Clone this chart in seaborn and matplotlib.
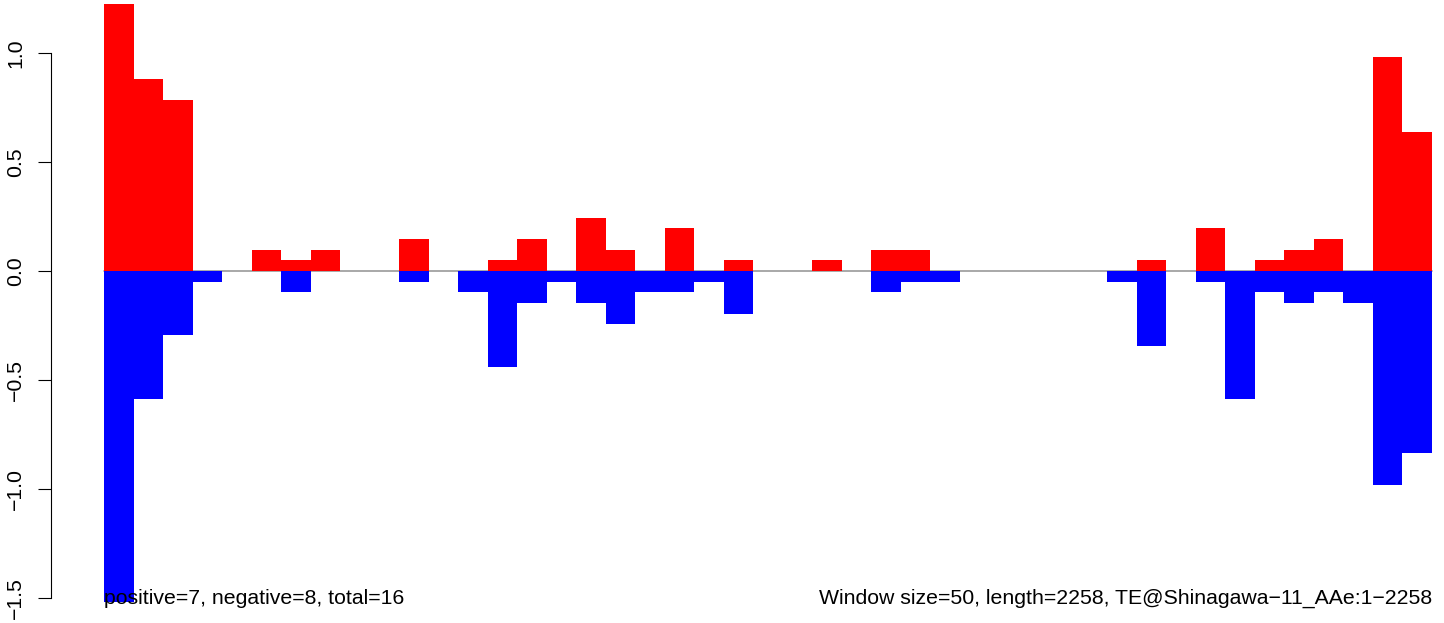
import numpy as np
import pandas as pd
import seaborn as sns
import matplotlib
matplotlib.use("Agg")
import matplotlib.pyplot as plt

# window scores (one bar per 50 bp window)
pos = [1.225, 0.882, 0.784, 0, 0, 0.098, 0.049, 0.098, 0, 0,
       0.147, 0, 0, 0.049, 0.147, 0, 0.245, 0.098, 0, 0.196,
       0, 0.049, 0, 0, 0.049, 0, 0.098, 0.098, 0, 0,
       0, 0, 0, 0, 0, 0.049, 0, 0.196, 0, 0.049,
       0.098, 0.147, 0, 0.980, 0.637]
neg = [-1.519, -0.588, -0.294, -0.049, 0, 0, -0.098, 0, 0, 0,
       -0.049, 0, -0.098, -0.441, -0.147, -0.049, -0.147, -0.245, -0.098, -0.098,
       -0.049, -0.196, 0, 0, 0, 0, -0.098, -0.049, -0.049, 0,
       0, 0, 0, 0, -0.049, -0.343, 0, -0.049, -0.588, -0.098,
       -0.147, -0.098, -0.147, -0.980, -0.833]
windows = [str(i + 1) for i in range(len(pos))]

yticks = [1.0, 0.5, 0.0, -0.5, -1.0, -1.5]
left_note = "positive=7, negative=8, total=16"
right_note = "Window size=50, length=2258, TE@Shinagawa\u221211_AAe:1\u22122258"

df = pd.DataFrame({"window": windows, "pos": pos, "neg": neg})

sns.set_style("white")
plt.rcParams["font.family"] = ["Liberation Sans", "DejaVu Sans"]
plt.rcParams["text.color"] = "black"

fig = plt.figure(figsize=(14.44, 6.23), dpi=100)
ax = fig.add_axes([51 / 1444, 0, 1 - 51 / 1444, 1])

ax.plot([-0.5, len(pos) - 0.5], [0, 0], color="#9a9a9a", lw=1.2, zorder=1)
sns.barplot(data=df, x="window", y="pos", color="#ff0000", width=1,
            saturation=1, linewidth=0, ax=ax, zorder=2)
sns.barplot(data=df, x="window", y="neg", color="#0000ff", width=1,
            saturation=1, linewidth=0, ax=ax, zorder=2)

# pixel geometry of the R plot region
bw = 1328 / 45
ax.set_xlim(-0.5 - 53 / bw, -0.5 + 1340 / bw)
ax.set_ylim(-(623 - 271) / 218, 271 / 218)

ax.text(-0.5, -1.5, left_note, ha="left", va="center", fontsize=15.3,
        color="black", zorder=5)
ax.text(len(pos) - 0.5, -1.5, right_note, ha="right", va="center",
        fontsize=15.3, color="black", zorder=5)

for s in ["top", "right", "bottom"]:
    ax.spines[s].set_visible(False)
ax.spines["left"].set_bounds(-1.5, 1.0)
ax.spines["left"].set_linewidth(0.8)
ax.spines["left"].set_color("black")
ax.set_yticks(yticks)
ax.set_yticklabels([f"{v:.1f}".replace("-", "\u2212") for v in yticks],
                   rotation=90, va="center", fontsize=15.3, color="black")
ax.tick_params(axis="y", left=True, length=9.5, width=0.8, pad=9,
               colors="black", labelcolor="black")
ax.set_xticks([])
ax.set_xlabel("")
ax.set_ylabel("")
ax.patch.set_alpha(0)

fig.savefig("out.png", dpi=100)
